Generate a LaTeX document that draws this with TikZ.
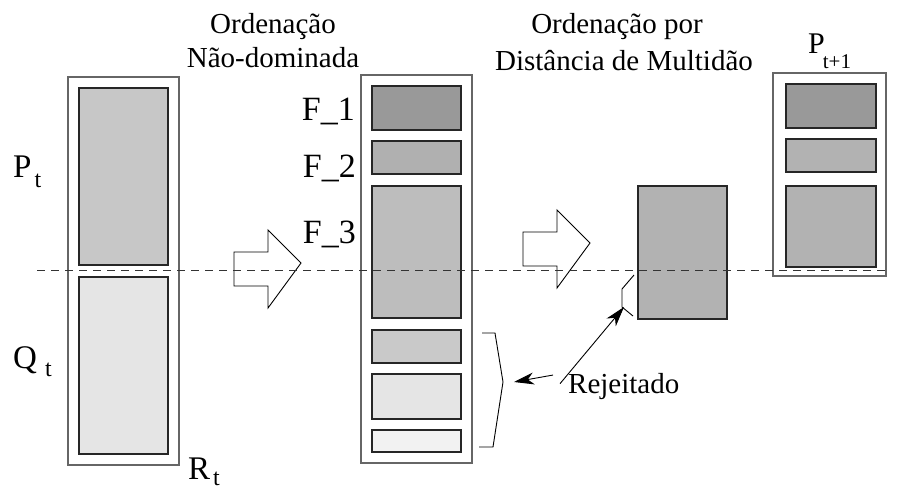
\documentclass[tikz,border=0pt]{standalone}
\usepackage{fontspec}
\setmainfont{Liberation Serif}
\usetikzlibrary{arrows.meta}
\newcommand{\lowsub}[3]{\hspace{#1pt}\raisebox{-#2pt}{\fontsize{24}{24}\selectfont #3}}
\tikzset{
  outerbox/.style={draw=black!60, line width=1.1pt, anchor=north west, inner sep=0pt, outer sep=0pt},
  slot/.style={draw=black!85, line width=1.1pt, anchor=north west, inner sep=0pt, outer sep=0pt},
  biglbl/.style={anchor=base west, inner sep=0pt, font=\rmfamily\fontsize{33}{33}\selectfont},
  flbl/.style={anchor=base east, inner sep=0pt, font=\rmfamily\fontsize{34}{34}\selectfont},
  heading/.style={anchor=base, inner sep=0pt, font=\rmfamily\fontsize{29}{29}\selectfont},
  pointer/.style={-{Stealth[length=20pt,width=12pt,inset=6pt]}, line width=0.9pt}
}
\begin{document}
\begin{tikzpicture}[x=1pt, y=-1pt]
    \useasboundingbox (0,0) rectangle (904,491);
    
    % R_t = P_t + Q_t
    \node[outerbox, minimum width=111pt, minimum height=388pt] (rt) at (68,77) {};
    \node[slot, fill=black!22, minimum width=89pt, minimum height=177pt] (pt) at (79,88) {};
    \node[slot, fill=black!10, minimum width=89pt, minimum height=177pt] (qt) at (79,277) {};
    \node[biglbl] (ptlbl) at (13,177) {P\lowsub{3}{10}{t}};
    \node[biglbl] (qtlbl) at (13,368) {Q\lowsub{8}{8}{t}};
    \node[biglbl] (rtlbl) at (188,479) {R\lowsub{3}{6}{t}};
    
    % fronts
    \node[outerbox, minimum width=111pt, minimum height=388pt] (fronts) at (361,75) {};
    \node[slot, fill=black!40, minimum width=89pt, minimum height=44pt] (f1) at (372,86) {};
    \node[slot, fill=black!31, minimum width=89pt, minimum height=33pt] (f2) at (372,141) {};
    \node[slot, fill=black!26, minimum width=89pt, minimum height=132pt] (f3) at (372,186) {};
    \node[slot, fill=black!21, minimum width=89pt, minimum height=33pt] (f4) at (372,330) {};
    \node[slot, fill=black!10, minimum width=89pt, minimum height=45pt] (f5) at (372,374) {};
    \node[slot, fill=black!5, minimum width=89pt, minimum height=22pt] (f6) at (372,430) {};
    \node[flbl] (f1lbl) at (355,120) {F\textunderscore1};
    \node[flbl] (f2lbl) at (356,177) {F\textunderscore2};
    \node[flbl] (f3lbl) at (356,243) {F\textunderscore3};
    
    % titles
    \node[heading] (t1a) at (273,33) {Ordenação};
    \node[heading] (t1b) at (273,67) {Não-dominada};
    \node[heading] (t2a) at (617,33) {Ordenação por};
    \node[heading] (t2b) at (624,70) {Distância de Multidão};
    
    % block arrows
    \foreach \ax/\ay in {234/269, 523/249}
    {
        \draw[line width=0.9pt] (\ax,\ay-17) -- (\ax+34,\ay-17) -- (\ax+34,\ay-39)
            -- (\ax+67,\ay-6) -- (\ax+34,\ay+39) -- (\ax+34,\ay+17) -- (\ax,\ay+17) -- cycle;
    }
    
    % crowding distance
    \node[slot, fill=black!30, minimum width=89pt, minimum height=133pt] (crowd) at (638,186) {};
    \draw[line width=0.9pt] (634,275) -- (622,289) -- (622,307) -- (633,316);
    \coordinate (cut) at (624,307);
    
    % P_{t+1}
    \node[outerbox, minimum width=113pt, minimum height=203pt] (pnext) at (773,73) {};
    \node[slot, fill=black!40, minimum width=90pt, minimum height=44pt] (n1) at (786,84) {};
    \node[slot, fill=black!30, minimum width=90pt, minimum height=33pt] (n2) at (786,139) {};
    \node[slot, fill=black!30, minimum width=90pt, minimum height=81pt] (n3) at (786,186) {};
    \node[anchor=base west, inner sep=0pt, font=\rmfamily\fontsize{30}{30}\selectfont] (pnlbl) at (808,53)
        {P\hspace{-2pt}\raisebox{-15pt}{\fontsize{21}{21}\selectfont t+1}};
    
    % rejected
    \node[anchor=base west, inner sep=0pt, font=\rmfamily\fontsize{29}{29}\selectfont] (rej) at (568,393) {Rejeitado};
    \draw[line width=0.9pt] (482,333) -- (495,333) -- (503,382) -- (493,447) -- (479,447);
    \coordinate (brace) at (514,382);
    \draw[pointer] ([xshift=-15pt, yshift=11pt]rej.west) -- (brace);
    \draw[pointer] ([xshift=-8pt, yshift=-11pt]rej.north west) -- (cut);
    
    \draw[dashed, dash pattern=on 8pt off 6pt, line width=0.8pt, black!80] (37,270) -- (888,270);
\end{tikzpicture}
\end{document}
